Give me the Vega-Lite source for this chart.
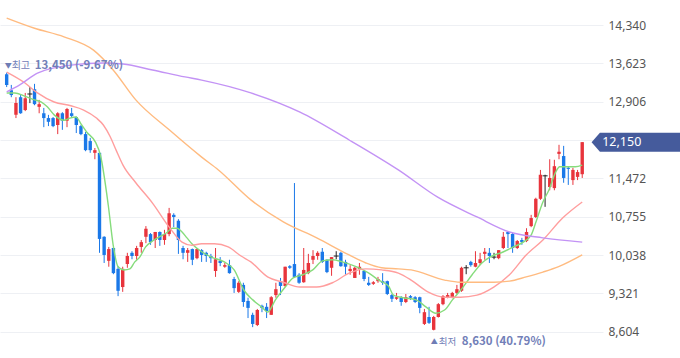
{
"$schema":"https://vega.github.io/schema/vega-lite/v6.json",
"width":603,"height":358,
"autosize":{"type":"none"},
"padding":{"left":0,"top":0,"right":77,"bottom":0},
"background":"#ffffff",
"config":{"view":{"stroke":null}},
"datasets":{
"candles":[
{"i":0,"open":13420,"high":13450,"low":13180,"close":13220},
{"i":1,"open":13120,"high":13220,"low":12990,"close":13030},
{"i":2,"open":12660,"high":12990,"low":12600,"close":12880},
{"i":3,"open":12990,"high":13030,"low":12680,"close":12690},
{"i":4,"open":12750,"high":13070,"low":12730,"close":12970},
{"i":5,"open":13050,"high":13180,"low":12880,"close":13050},
{"i":6,"open":13140,"high":13240,"low":12840,"close":12860},
{"i":7,"open":12810,"high":12940,"low":12690,"close":12860},
{"i":8,"open":12690,"high":12790,"low":12430,"close":12600},
{"i":9,"open":12600,"high":12660,"low":12450,"close":12530},
{"i":10,"open":12600,"high":12620,"low":12430,"close":12450},
{"i":11,"open":12470,"high":12710,"low":12300,"close":12690},
{"i":12,"open":12690,"high":12710,"low":12380,"close":12550},
{"i":13,"open":12550,"high":12790,"low":12430,"close":12770},
{"i":14,"open":12690,"high":12790,"low":12620,"close":12640},
{"i":15,"open":12620,"high":12630,"low":12320,"close":12470},
{"i":16,"open":12450,"high":12470,"low":12280,"close":12300},
{"i":17,"open":12300,"high":12340,"low":11980,"close":12000},
{"i":18,"open":12170,"high":12230,"low":11950,"close":12000},
{"i":19,"open":11950,"high":12040,"low":11830,"close":12000},
{"i":20,"open":11950,"high":11970,"low":10080,"close":10340},
{"i":21,"open":10380,"high":10390,"low":9890,"close":10040},
{"i":22,"open":9930,"high":10190,"low":9820,"close":10150},
{"i":23,"open":10170,"high":10190,"low":9680,"close":9700},
{"i":24,"open":9780,"high":9830,"low":9270,"close":9370},
{"i":25,"open":9440,"high":9820,"low":9350,"close":9780},
{"i":26,"open":9870,"high":10080,"low":9800,"close":10020},
{"i":27,"open":10080,"high":10110,"low":9960,"close":10020},
{"i":28,"open":10020,"high":10210,"low":9950,"close":10170},
{"i":29,"open":10190,"high":10320,"low":10080,"close":10280},
{"i":30,"open":10380,"high":10580,"low":10260,"close":10530},
{"i":31,"open":10430,"high":10450,"low":10230,"close":10280},
{"i":32,"open":10320,"high":10470,"low":10170,"close":10470},
{"i":33,"open":10470,"high":10480,"low":10210,"close":10320},
{"i":34,"open":10320,"high":10510,"low":10230,"close":10430},
{"i":35,"open":10430,"high":10920,"low":10390,"close":10820},
{"i":36,"open":10790,"high":10820,"low":10560,"close":10750},
{"i":37,"open":10680,"high":10710,"low":10060,"close":10320},
{"i":38,"open":10170,"high":10210,"low":9960,"close":10080},
{"i":39,"open":10080,"high":10170,"low":9910,"close":10130},
{"i":40,"open":10150,"high":10160,"low":9850,"close":9950},
{"i":41,"open":9980,"high":10170,"low":9960,"close":10150},
{"i":42,"open":10130,"high":10150,"low":9910,"close":10040},
{"i":43,"open":10080,"high":10100,"low":9910,"close":10020},
{"i":44,"open":10020,"high":10060,"low":9890,"close":9980},
{"i":45,"open":9740,"high":10170,"low":9630,"close":9960},
{"i":46,"open":9930,"high":10000,"low":9830,"close":9890},
{"i":47,"open":9820,"high":9890,"low":9800,"close":9850},
{"i":48,"open":9850,"high":9950,"low":9690,"close":9700},
{"i":49,"open":9590,"high":9630,"low":9330,"close":9420},
{"i":50,"open":9350,"high":9550,"low":9330,"close":9520},
{"i":51,"open":9480,"high":9520,"low":9070,"close":9160},
{"i":52,"open":9180,"high":9240,"low":8860,"close":9050},
{"i":53,"open":8920,"high":8960,"low":8690,"close":8750},
{"i":54,"open":8730,"high":9030,"low":8710,"close":9010},
{"i":55,"open":9090,"high":9110,"low":8970,"close":9050},
{"i":56,"open":9070,"high":9140,"low":8860,"close":8990},
{"i":57,"open":8920,"high":9270,"low":8920,"close":9250},
{"i":58,"open":9290,"high":9520,"low":9240,"close":9400},
{"i":59,"open":9550,"high":9610,"low":9290,"close":9460},
{"i":60,"open":9460,"high":9820,"low":9440,"close":9820},
{"i":61,"open":9830,"high":9850,"low":9780,"close":9800},
{"i":62,"open":9870,"high":11385,"low":9610,"close":9630},
{"i":63,"open":9670,"high":9700,"low":9500,"close":9520},
{"i":64,"open":9530,"high":10170,"low":9520,"close":9760},
{"i":65,"open":9700,"high":10060,"low":9680,"close":9890},
{"i":66,"open":9950,"high":10130,"low":9870,"close":10020},
{"i":67,"open":10020,"high":10110,"low":9950,"close":10080},
{"i":68,"open":10100,"high":10170,"low":9890,"close":9910},
{"i":69,"open":9950,"high":9960,"low":9700,"close":9720},
{"i":70,"open":9800,"high":10000,"low":9650,"close":10000},
{"i":71,"open":10020,"high":10110,"low":9960,"close":10020},
{"i":72,"open":10080,"high":10100,"low":9820,"close":9830},
{"i":73,"open":9910,"high":9950,"low":9670,"close":9820},
{"i":74,"open":9740,"high":9850,"low":9670,"close":9780},
{"i":75,"open":9610,"high":9820,"low":9610,"close":9800},
{"i":76,"open":9780,"high":9890,"low":9670,"close":9820},
{"i":77,"open":9740,"high":9760,"low":9550,"close":9590},
{"i":78,"open":9520,"high":9630,"low":9460,"close":9480},
{"i":79,"open":9500,"high":9550,"low":9480,"close":9530},
{"i":80,"open":9550,"high":9630,"low":9520,"close":9590},
{"i":81,"open":9550,"high":9700,"low":9480,"close":9520},
{"i":82,"open":9550,"high":9560,"low":9290,"close":9310},
{"i":83,"open":9290,"high":9310,"low":9160,"close":9220},
{"i":84,"open":9220,"high":9330,"low":9200,"close":9250},
{"i":85,"open":9240,"high":9270,"low":9090,"close":9160},
{"i":86,"open":9160,"high":9310,"low":9140,"close":9250},
{"i":87,"open":9270,"high":9290,"low":9200,"close":9240},
{"i":88,"open":9250,"high":9270,"low":9140,"close":9160},
{"i":89,"open":9250,"high":9260,"low":8950,"close":9050},
{"i":90,"open":8750,"high":9030,"low":8730,"close":8970},
{"i":91,"open":8880,"high":9070,"low":8750,"close":8770},
{"i":92,"open":8640,"high":8900,"low":8630,"close":8880},
{"i":93,"open":8880,"high":9140,"low":8870,"close":9120},
{"i":94,"open":9120,"high":9290,"low":9100,"close":9270},
{"i":95,"open":9250,"high":9330,"low":9230,"close":9290},
{"i":96,"open":9250,"high":9350,"low":9230,"close":9330},
{"i":97,"open":9330,"high":9480,"low":9310,"close":9400},
{"i":98,"open":9370,"high":9820,"low":9350,"close":9800},
{"i":99,"open":9800,"high":9850,"low":9680,"close":9800},
{"i":100,"open":9910,"high":9930,"low":9820,"close":9850},
{"i":101,"open":9820,"high":10110,"low":9810,"close":9890},
{"i":102,"open":9890,"high":10080,"low":9850,"close":9960},
{"i":103,"open":10060,"high":10170,"low":9950,"close":10100},
{"i":104,"open":10080,"high":10170,"low":9890,"close":10020},
{"i":105,"open":10000,"high":10080,"low":9960,"close":10000},
{"i":106,"open":9980,"high":10130,"low":9960,"close":10130},
{"i":107,"open":10170,"high":10470,"low":10150,"close":10380},
{"i":108,"open":10470,"high":10470,"low":10170,"close":10430},
{"i":109,"open":10430,"high":10450,"low":10080,"close":10170},
{"i":110,"open":10170,"high":10320,"low":10150,"close":10300},
{"i":111,"open":10320,"high":10360,"low":10230,"close":10280},
{"i":112,"open":10300,"high":10540,"low":10280,"close":10470},
{"i":113,"open":10580,"high":10790,"low":10560,"close":10730},
{"i":114,"open":10750,"high":11110,"low":10730,"close":11090},
{"i":115,"open":11090,"high":11630,"low":11070,"close":11540},
{"i":116,"open":11520,"high":11540,"low":10940,"close":11520},
{"i":117,"open":11310,"high":11830,"low":11250,"close":11480},
{"i":118,"open":11290,"high":11820,"low":11250,"close":11700},
{"i":119,"open":11930,"high":12100,"low":11830,"close":11970},
{"i":120,"open":11890,"high":12080,"low":11390,"close":11480},
{"i":121,"open":11670,"high":11700,"low":11350,"close":11650},
{"i":122,"open":11440,"high":11670,"low":11350,"close":11630},
{"i":123,"open":11500,"high":11630,"low":11440,"close":11590},
{"i":124,"open":11550,"high":12150,"low":11480,"close":12150}
],
"ma":[
{"i":0,"ma":"MA5","v":13070},{"i":1.76,"ma":"MA5","v":13070},{"i":3.88,"ma":"MA5","v":13010},{"i":6.0,"ma":"MA5","v":12940},{"i":7.48,"ma":"MA5","v":12900},{"i":8.75,"ma":"MA5","v":12810},{"i":10.23,"ma":"MA5","v":12660},{"i":12.35,"ma":"MA5","v":12560},{"i":13.62,"ma":"MA5","v":12600},{"i":14.89,"ma":"MA5","v":12620},{"i":16.17,"ma":"MA5","v":12470},{"i":17.22,"ma":"MA5","v":12340},{"i":19.13,"ma":"MA5","v":12150},{"i":20.19,"ma":"MA5","v":11910},{"i":21.89,"ma":"MA5","v":10970},{"i":22.94,"ma":"MA5","v":10230},{"i":24.0,"ma":"MA5","v":9820},{"i":25.28,"ma":"MA5","v":9760},{"i":26.55,"ma":"MA5","v":9780},{"i":27.61,"ma":"MA5","v":9910},{"i":28.67,"ma":"MA5","v":10000},{"i":29.94,"ma":"MA5","v":10190},{"i":31.42,"ma":"MA5","v":10300},{"i":32.9,"ma":"MA5","v":10380},{"i":34.39,"ma":"MA5","v":10450},{"i":35.66,"ma":"MA5","v":10540},{"i":36.72,"ma":"MA5","v":10540},{"i":37.78,"ma":"MA5","v":10470},{"i":38.84,"ma":"MA5","v":10360},{"i":39.9,"ma":"MA5","v":10250},{"i":42.01,"ma":"MA5","v":10100},{"i":44.13,"ma":"MA5","v":10000},{"i":46.89,"ma":"MA5","v":9910},{"i":49.01,"ma":"MA5","v":9760},{"i":51.12,"ma":"MA5","v":9380},{"i":53.03,"ma":"MA5","v":9200},{"i":55.15,"ma":"MA5","v":9050},{"i":56.21,"ma":"MA5","v":8970},{"i":57.9,"ma":"MA5","v":9200},{"i":60.02,"ma":"MA5","v":9440},{"i":61.72,"ma":"MA5","v":9610},{"i":63.83,"ma":"MA5","v":9670},{"i":65.95,"ma":"MA5","v":9760},{"i":68.07,"ma":"MA5","v":9930},{"i":70.19,"ma":"MA5","v":9950},{"i":72.31,"ma":"MA5","v":9910},{"i":75.28,"ma":"MA5","v":9820},{"i":78.03,"ma":"MA5","v":9700},{"i":80.15,"ma":"MA5","v":9570},{"i":82.26,"ma":"MA5","v":9460},{"i":83.33,"ma":"MA5","v":9290},{"i":85.45,"ma":"MA5","v":9240},{"i":88.2,"ma":"MA5","v":9200},{"i":90.32,"ma":"MA5","v":9070},{"i":92.44,"ma":"MA5","v":8950},{"i":94.34,"ma":"MA5","v":9010},{"i":96.04,"ma":"MA5","v":9200},{"i":98.16,"ma":"MA5","v":9420},{"i":100.28,"ma":"MA5","v":9670},{"i":102.39,"ma":"MA5","v":9890},{"i":104.09,"ma":"MA5","v":10000},{"i":107.06,"ma":"MA5","v":10100},{"i":109.17,"ma":"MA5","v":10190},{"i":111.29,"ma":"MA5","v":10280},{"i":112.99,"ma":"MA5","v":10410},{"i":114.05,"ma":"MA5","v":10660},{"i":115.53,"ma":"MA5","v":11030},{"i":116.8,"ma":"MA5","v":11250},{"i":118.28,"ma":"MA5","v":11590},{"i":119.13,"ma":"MA5","v":11690},{"i":121.04,"ma":"MA5","v":11690},{"i":122.52,"ma":"MA5","v":11690},{"i":124.0,"ma":"MA5","v":11720},
{"i":0,"ma":"MA20","v":13460},{"i":3.88,"ma":"MA20","v":13260},{"i":6.63,"ma":"MA20","v":13070},{"i":10.23,"ma":"MA20","v":12900},{"i":13.83,"ma":"MA20","v":12830},{"i":16.59,"ma":"MA20","v":12750},{"i":19.34,"ma":"MA20","v":12600},{"i":20.83,"ma":"MA20","v":12470},{"i":22.31,"ma":"MA20","v":12250},{"i":23.58,"ma":"MA20","v":12000},{"i":25.06,"ma":"MA20","v":11720},{"i":27.82,"ma":"MA20","v":11390},{"i":31.42,"ma":"MA20","v":11010},{"i":35.02,"ma":"MA20","v":10560},{"i":37.78,"ma":"MA20","v":10280},{"i":39.9,"ma":"MA20","v":10220},{"i":42.01,"ma":"MA20","v":10250},{"i":44.77,"ma":"MA20","v":10250},{"i":47.73,"ma":"MA20","v":10190},{"i":50.49,"ma":"MA20","v":10020},{"i":52.61,"ma":"MA20","v":9910},{"i":56.21,"ma":"MA20","v":9630},{"i":59.6,"ma":"MA20","v":9530},{"i":63.2,"ma":"MA20","v":9440},{"i":66.8,"ma":"MA20","v":9440},{"i":70.19,"ma":"MA20","v":9520},{"i":73.79,"ma":"MA20","v":9700},{"i":77.39,"ma":"MA20","v":9780},{"i":80.78,"ma":"MA20","v":9760},{"i":84.39,"ma":"MA20","v":9700},{"i":87.14,"ma":"MA20","v":9570},{"i":90.74,"ma":"MA20","v":9350},{"i":94.34,"ma":"MA20","v":9250},{"i":97.73,"ma":"MA20","v":9250},{"i":101.33,"ma":"MA20","v":9290},{"i":104.94,"ma":"MA20","v":9440},{"i":108.33,"ma":"MA20","v":9670},{"i":111.93,"ma":"MA20","v":10040},{"i":115.53,"ma":"MA20","v":10320},{"i":119.77,"ma":"MA20","v":10730},{"i":124.0,"ma":"MA20","v":11030},
{"i":0,"ma":"MA60","v":14470},{"i":6.0,"ma":"MA60","v":14280},{"i":12.35,"ma":"MA60","v":14120},{"i":18.71,"ma":"MA60","v":13870},{"i":22.94,"ma":"MA60","v":13500},{"i":27.82,"ma":"MA60","v":12940},{"i":35.02,"ma":"MA60","v":12380},{"i":42.01,"ma":"MA60","v":11870},{"i":45.62,"ma":"MA60","v":11630},{"i":52.61,"ma":"MA60","v":11070},{"i":59.6,"ma":"MA60","v":10660},{"i":66.8,"ma":"MA60","v":10360},{"i":73.79,"ma":"MA60","v":10040},{"i":77.39,"ma":"MA60","v":9890},{"i":80.78,"ma":"MA60","v":9800},{"i":84.39,"ma":"MA60","v":9780},{"i":87.14,"ma":"MA60","v":9760},{"i":94.34,"ma":"MA60","v":9570},{"i":97.73,"ma":"MA60","v":9530},{"i":104.94,"ma":"MA60","v":9530},{"i":108.33,"ma":"MA60","v":9550},{"i":111.93,"ma":"MA60","v":9630},{"i":115.53,"ma":"MA60","v":9720},{"i":118.92,"ma":"MA60","v":9820},{"i":124.0,"ma":"MA60","v":10040},
{"i":0,"ma":"MA120","v":13090},{"i":2.82,"ma":"MA120","v":13220},{"i":6.63,"ma":"MA120","v":13440},{"i":13.83,"ma":"MA120","v":13590},{"i":20.83,"ma":"MA120","v":13630},{"i":25.06,"ma":"MA120","v":13610},{"i":31.42,"ma":"MA120","v":13500},{"i":38.41,"ma":"MA120","v":13370},{"i":42.01,"ma":"MA120","v":13310},{"i":52.61,"ma":"MA120","v":13070},{"i":63.2,"ma":"MA120","v":12710},{"i":73.79,"ma":"MA120","v":12190},{"i":84.39,"ma":"MA120","v":11630},{"i":92.86,"ma":"MA120","v":11120},{"i":101.33,"ma":"MA120","v":10750},{"i":108.33,"ma":"MA120","v":10470},{"i":115.53,"ma":"MA120","v":10360},{"i":124.0,"ma":"MA120","v":10280}
],
"hi":[{"i":0,"v":13450,"m":"▼","a":"최고","b":"13,450 (-9.67%)"}],
"lo":[{"i":92,"v":8630,"m":"▲","a":"최저","b":"8,630 (40.79%)"}],
"last":[{"i":124,"v":12150,"label":"12,150"}]
},
"layer":[
{"data":{"name":"candles"},
 "mark":{"type":"rule","strokeWidth":1},
 "encoding":{
  "x":{"field":"i","type":"quantitative","scale":{"domain":[-0.36,127.4],"nice":false,"zero":false},"axis":null},
  "y":{"field":"low","type":"quantitative","scale":{"domain":[8113,14808],"nice":false,"zero":false},
   "axis":{"orient":"right","title":null,"values":[8604,9321,10038,10755,11472,12189,12906,13623,14340],
    "labelExpr":"datum.value == 12189 ? '' : format(datum.value, ',')",
    "grid":true,"gridColor":"#eef0f4","gridWidth":1,"domain":false,"ticks":false,"labelPadding":5,
    "labelFont":"Noto Sans","labelFontSize":12,"labelColor":"#555555","labelAlign":"left","labelBaseline":"middle"}},
  "y2":{"field":"high"},
  "color":{"condition":[{"test":"datum.close > datum.open","value":"#e8343c"},{"test":"datum.close < datum.open","value":"#1a78e8"}],"value":"#222222"}
 }},
{"data":{"name":"candles"},
 "mark":{"type":"bar","width":3.4},
 "encoding":{
  "x":{"field":"i","type":"quantitative"},
  "y":{"field":"open","type":"quantitative"},
  "y2":{"field":"close"},
  "color":{"condition":[{"test":"datum.close > datum.open","value":"#e8343c"},{"test":"datum.close < datum.open","value":"#1a78e8"}],"value":"#222222"}
 }},
{"data":{"name":"candles"},
 "transform":[{"filter":"datum.open == datum.close"}],
 "mark":{"type":"tick","orient":"horizontal","size":5,"thickness":1,"color":"#222222","opacity":1},
 "encoding":{
  "x":{"field":"i","type":"quantitative"},
  "y":{"field":"close","type":"quantitative"}
 }},
{"data":{"name":"ma"},
 "mark":{"type":"line","interpolate":"monotone","strokeWidth":1.4},
 "encoding":{
  "x":{"field":"i","type":"quantitative"},
  "y":{"field":"v","type":"quantitative"},
  "color":{"field":"ma","type":"nominal","scale":{"domain":["MA5","MA20","MA60","MA120"],"range":["#86dc7c","#ff9e9e","#ffbb80","#c393f5"]},"legend":null}
 }},
{"data":{"name":"hi"},
 "mark":{"type":"text","align":"left","baseline":"middle","dx":-2,"dy":-7,"font":"Noto Sans CJK KR","fontSize":7,"color":"#6f7db5"},
 "encoding":{"x":{"field":"i","type":"quantitative"},"y":{"field":"v","type":"quantitative"},"text":{"field":"m"}}},
{"data":{"name":"hi"},
 "mark":{"type":"text","align":"left","baseline":"middle","dx":5,"dy":-7,"font":"Noto Sans CJK KR","fontSize":10,"color":"#7280b8"},
 "encoding":{"x":{"field":"i","type":"quantitative"},"y":{"field":"v","type":"quantitative"},"text":{"field":"a"}}},
{"data":{"name":"hi"},
 "mark":{"type":"text","align":"left","baseline":"middle","dx":28,"dy":-7,"font":"Noto Sans CJK KR","fontSize":11.5,"fontWeight":"bold","color":"#7280b8"},
 "encoding":{"x":{"field":"i","type":"quantitative"},"y":{"field":"v","type":"quantitative"},"text":{"field":"b"}}},
{"data":{"name":"lo"},
 "mark":{"type":"text","align":"left","baseline":"middle","dx":-3,"dy":12,"font":"Noto Sans CJK KR","fontSize":7,"color":"#6f7db5"},
 "encoding":{"x":{"field":"i","type":"quantitative"},"y":{"field":"v","type":"quantitative"},"text":{"field":"m"}}},
{"data":{"name":"lo"},
 "mark":{"type":"text","align":"left","baseline":"middle","dx":5,"dy":12,"font":"Noto Sans CJK KR","fontSize":9.5,"color":"#7280b8"},
 "encoding":{"x":{"field":"i","type":"quantitative"},"y":{"field":"v","type":"quantitative"},"text":{"field":"a"}}},
{"data":{"name":"lo"},
 "mark":{"type":"text","align":"left","baseline":"middle","dx":28,"dy":12,"font":"Noto Sans CJK KR","fontSize":11.5,"fontWeight":"bold","color":"#7280b8"},
 "encoding":{"x":{"field":"i","type":"quantitative"},"y":{"field":"v","type":"quantitative"},"text":{"field":"b"}}},
{"data":{"name":"last"},
 "mark":{"type":"point","shape":"M0.101,0 L0.191,-0.1025 L1.1,-0.1025 L1.1,0.1025 L0.191,0.1025 Z","size":34373,"filled":true,"color":"#455b9c","opacity":1,"strokeWidth":0},
 "encoding":{"x":{"field":"i","type":"quantitative"},"y":{"field":"v","type":"quantitative"}}},
{"data":{"name":"last"},
 "mark":{"type":"text","align":"left","baseline":"middle","dx":20,"font":"Noto Sans","fontSize":12.5,"color":"#ffffff"},
 "encoding":{"x":{"field":"i","type":"quantitative"},"y":{"field":"v","type":"quantitative"},"text":{"field":"label"}}}
]
}
